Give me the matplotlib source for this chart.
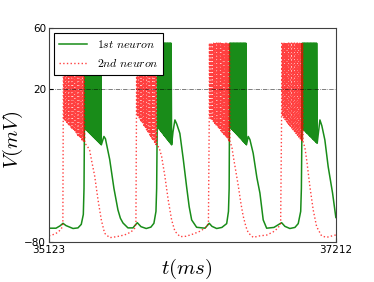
import numpy as np
import matplotlib
matplotlib.use("Agg")
import matplotlib.pyplot as plt

plt.rcParams['mathtext.fontset'] = 'cm'

t_lim = [35123, 37212]
y_ticks = [-80, 20, 60]
spike_peak = 50

# 1st neuron: slow (between bursts) trace
n1_slow_t = [35123, 35174, 35203, 35225, 35247, 35298, 35334, 35358, 35373, 35378,
             35523, 35534, 35565, 35596, 35625, 35643, 35662, 35698, 35734, 35766,
             35793, 35831, 35865, 35887, 35902, 35907,
             36026, 36040, 36054, 36076, 36101, 36125, 36144, 36162, 36198, 36259,
             36290, 36310, 36344, 36382, 36417, 36430, 36435,
             36574, 36586, 36610, 36637, 36659, 36683, 36708, 36761, 36817, 36841,
             36877, 36914, 36938, 36956, 36961,
             37086, 37096, 37110, 37132, 37156, 37188, 37212]
n1_slow_v = [-71, -71, -69.5, -67.8, -69.3, -71.2, -70.8, -68.5, -62, -45,
             -11, -12.5, -26, -45, -59, -64.5, -67.6, -70.8, -70.8, -67.4,
             -70, -71.2, -70.3, -67.8, -60, -45,
             -8, -0.2, -3, -9, -26, -43.8, -57, -65.6, -70.4, -71,
             -67.8, -69.8, -71.2, -70.5, -68, -60, -45,
             -11, -13, -22, -38, -48, -65.6, -71, -70.5, -67.4, -69.8,
             -71.2, -70.5, -68, -60, -45,
             -8, -0.2, -4, -13.3, -30.7, -48, -64]

# 1st neuron bursts
n1_burst_start = [35381, 35911, 36437, 36965]
n1_burst_end = [35504, 36016, 36561, 37076]
n1_burst_spikes = [24, 20, 22, 20]
n1_trough_first = [-5.5, -4.5, -4.5, -5.5]
n1_trough_last = [-16.5, -16.5, -16.5, -15.5]

# 2nd neuron: slow trace
n2_slow_t = [35123, 35167, 35189, 35213, 35224,
             35400, 35419, 35436, 35456, 35480, 35504, 35528, 35565, 35618, 35674,
             35720, 35747, 35756,
             35924, 35943, 35967, 35991, 36016, 36040, 36077, 36120, 36173, 36222,
             36259, 36284,
             36455, 36465, 36484, 36501, 36521, 36537, 36557, 36574, 36610, 36659,
             36708, 36754, 36790, 36810,
             36986, 36999, 37023, 37047, 37072, 37108, 37144, 37212]
n2_slow_v = [-76, -74.8, -73.5, -71.5, -68,
             -17, -20, -28, -37, -52.5, -65.6, -74.3, -77.2, -76.5, -75.4,
             -73.5, -71, -68,
             -18, -24, -37, -52.5, -65.6, -73, -76.5, -76.3, -74.8, -73,
             -71, -68,
             -18, -24, -34, -43, -55, -63, -70, -74, -77, -76,
             -75.5, -73.5, -71, -67.8,
             -18, -26, -43.8, -59, -70, -76, -77, -75.4]

# 2nd neuron bursts
n2_burst_start = [35227, 35760, 36290, 36817]
n2_burst_end = [35383, 35907, 36441, 36974]
n2_burst_spikes = [30, 30, 30, 30]
n2_trough_first = [1, 4, 2, 3]
n2_trough_last = [-15.4, -17, -14.4, -15]


def build_trace(slow_t, slow_v, starts, ends, counts, tr_first, tr_last):
    t = list(slow_t)
    v = list(slow_v)
    for s, e, n, a, b in zip(starts, ends, counts, tr_first, tr_last):
        ts = np.linspace(s, e, n + 1)
        troughs = np.linspace(a, b, n + 1)
        for i in range(n):
            t.append(ts[i])
            v.append(troughs[i])
            t.append(ts[i] + 0.3 * (ts[i + 1] - ts[i]))
            v.append(spike_peak)
        t.append(ts[-1])
        v.append(troughs[-1])
    order = np.argsort(t, kind='stable')
    return np.array(t)[order], np.array(v)[order]


t1, v1 = build_trace(n1_slow_t, n1_slow_v, n1_burst_start, n1_burst_end,
                     n1_burst_spikes, n1_trough_first, n1_trough_last)
t2, v2 = build_trace(n2_slow_t, n2_slow_v, n2_burst_start, n2_burst_end,
                     n2_burst_spikes, n2_trough_first, n2_trough_last)

fig = plt.figure(figsize=(3.74, 2.82), dpi=100)
ax = fig.add_axes([0.131, 0.142, 0.767, 0.759])

ax.plot(t1, v1, color='green', lw=1.1, alpha=0.9, label=r'$1st\ neuron$')
ax.plot(t2, v2, color='red', lw=1.0, ls=':', alpha=0.75, label=r'$2nd\ neuron$')
ax.axhline(20, color='k', lw=0.5, ls='-.', alpha=0.7)

ax.set_xlim(t_lim)
ax.set_ylim(-80, 60)
ax.set_xticks(t_lim)
ax.set_yticks(y_ticks)
ax.tick_params(direction='in', length=3, labelsize=7.5, pad=2)
for sp in ax.spines.values():
    sp.set_color('0.25')

ax.set_xlabel(r'$t(ms)$', fontsize=15)
ax.set_ylabel(r'$V(mV)$', fontsize=15)
ax.xaxis.set_label_coords(0.48, -0.07)
ax.yaxis.set_label_coords(-0.085, 0.48)

leg = ax.legend(loc='upper left', fontsize=8.5, fancybox=False, framealpha=1,
                edgecolor='k', borderaxespad=0.45, handlelength=2.4)
leg.get_frame().set_linewidth(0.8)

fig.savefig('out.png', dpi=100)
